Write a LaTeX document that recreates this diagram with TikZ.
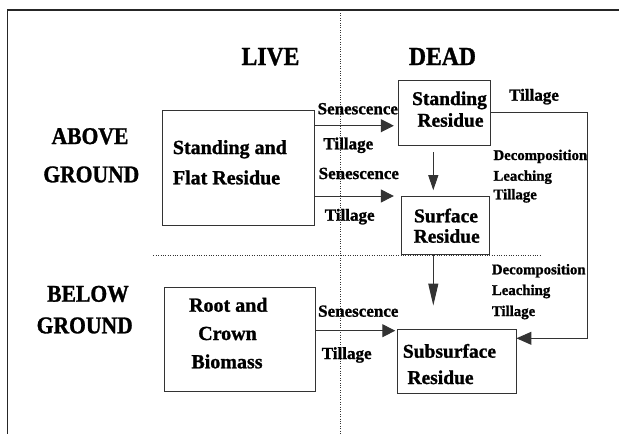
\documentclass[tikz,border=0pt]{standalone}
\usepackage{fontspec}
\setmainfont[BoldFeatures={FakeBold=1.2}]{Liberation Serif}
\newfontfamily\hdrfont[FakeStretch=0.91,BoldFeatures={FakeBold=1.2}]{Liberation Serif}
\newfontfamily\sidefont[FakeStretch=0.9,BoldFeatures={FakeBold=1.2}]{Liberation Serif}
\usetikzlibrary{arrows.meta}
\begin{document}
\begin{tikzpicture}[x=1pt,y=-1pt,
  box/.style={draw=black!80, line width=0.9pt, rectangle, inner sep=0pt},
  tx/.style={inner sep=0pt, anchor=base},
  txl/.style={inner sep=0pt, anchor=base west},
  hdr/.style={tx, font=\hdrfont\bfseries\fontsize{26}{26}\selectfont},
  side/.style={tx, font=\sidefont\bfseries\fontsize{24}{24}\selectfont},
  bt/.style={font=\bfseries\fontsize{20}{20}\selectfont},
  bts/.style={font=\bfseries\fontsize{19.5}{19.5}\selectfont},
  lab/.style={tx, font=\bfseries\fontsize{17}{17}\selectfont},
  dlab/.style={txl, font=\bfseries\fontsize{14.8}{14.8}\selectfont},
  conn/.style={draw=black!80, line width=1pt},
  harr/.style={conn, -{Triangle[length=13pt,width=13pt]}},
  varra/.style={conn, -{Triangle[length=15pt,width=10pt]}},
  varrb/.style={conn, -{Triangle[length=22pt,width=10pt]}},
  fbarr/.style={conn, -{Triangle[length=15pt,width=13pt]}},
  dots/.style={draw=black!80, line width=0.7pt, dash pattern=on 0.8pt off 1.6pt}
]
\useasboundingbox (0,0) rectangle (619,434);
% frame
\draw[line width=1.3pt, black!85] (7.3,434) -- (7.3,10) -- (619,10);
% dotted dividers
\draw[dots] (340.7,13) -- (340.7,434);
\draw[dots] (153.3,255) -- (541.7,255);

% headers
\node[hdr] (live) at (270.5,65) {LIVE};
\node[hdr] (dead) at (442.5,65) {DEAD};
\node[side] (above) at (90,144) {ABOVE};
\node[side] (ground1) at (91.3,182.3) {GROUND};
\node[side] (below) at (88,301.7) {BELOW};
\node[side] (ground2) at (84.7,333.3) {GROUND};

% boxes
\node[box, minimum width=151.3pt, minimum height=115pt] (lab1) at (238.35,168.2) {};
\node[box, minimum width=150.7pt, minimum height=104pt] (root) at (239.65,339.25) {};
\node[box, minimum width=92pt, minimum height=64.6pt] (sr) at (444.7,113) {};
\node[box, minimum width=87.6pt, minimum height=58.7pt] (sur) at (445.5,225.3) {};
\node[box, minimum width=118.3pt, minimum height=64.7pt] (sub) at (456.85,361.35) {};

% box texts
\node[txl, bt] (t1a) at (172.7,154) {Standing and};
\node[txl, bt] (t1b) at (172.7,184.3) {Flat Residue};
\node[tx, bt] (t2a) at (228.3,311.7) {Root and};
\node[tx, bt] (t2b) at (227.5,340) {Crown};
\node[tx, bt] (t2c) at (227,368.3) {Biomass};
\node[tx, bts] (t3a) at (449.5,105) {Standing};
\node[tx, bts] (t3b) at (450.5,126.7) {Residue};
\node[tx, bts] (t4a) at (446,222.3) {Surface};
\node[tx, bts] (t4b) at (446.7,242.7) {Residue};
\node[txl, bts] (t5a) at (402.7,357.7) {Subsurface};
\node[txl, bts] (t5b) at (407.3,384) {Residue};

% connector labels
\node[lab] (s1) at (357.8,114.3) {Senescence};
\node[lab] (l1) at (348.3,149.3) {Tillage};
\node[lab] (s2) at (358.8,179) {Senescence};
\node[lab] (l2) at (349.7,220.7) {Tillage};
\node[lab] (s3) at (358.3,316.7) {Senescence};
\node[lab] (l3) at (346.7,359) {Tillage};
\node[lab] (ltop) at (534,100.7) {Tillage};
\node[dlab] (d1a) at (493.3,160) {Decomposition};
\node[dlab] (d1b) at (493.3,180.7) {Leaching};
\node[dlab] (d1c) at (493.3,199.3) {Tillage};
\node[dlab] (d2a) at (491.7,274.3) {Decomposition};
\node[dlab] (d2b) at (491.7,295) {Leaching};
\node[dlab] (d2c) at (491.7,316) {Tillage};

% connectors
\coordinate (a1) at (394.3,125.7);
\coordinate (a2) at (394.3,196);
\coordinate (a3) at (395.7,330.7);
\coordinate (vx) at (433.3,0);
\coordinate (fb1) at (587.3,112.3);
\coordinate (fb2) at (587.3,338.3);
\draw[harr, shorten >=4.4pt] (lab1.east |- a1) -- (sr.west |- a1);
\draw[harr, shorten >=7.4pt] (lab1.east |- a2) -- (sur.west |- a2);
\draw[harr, shorten >=2pt] (root.east |- a3) -- (sub.west |- a3);
\draw[varra, shorten <=6.4pt, shorten >=5.3pt] (sr.south -| vx) -- (sur.north -| vx);
\draw[varrb, shorten >=23pt] (sur.south -| vx) -- (sub.north -| vx);
\draw[fbarr] (sr.east |- fb1) -- (fb1) -- (fb2) -- (sub.east |- fb2);
\end{tikzpicture}
\end{document}
